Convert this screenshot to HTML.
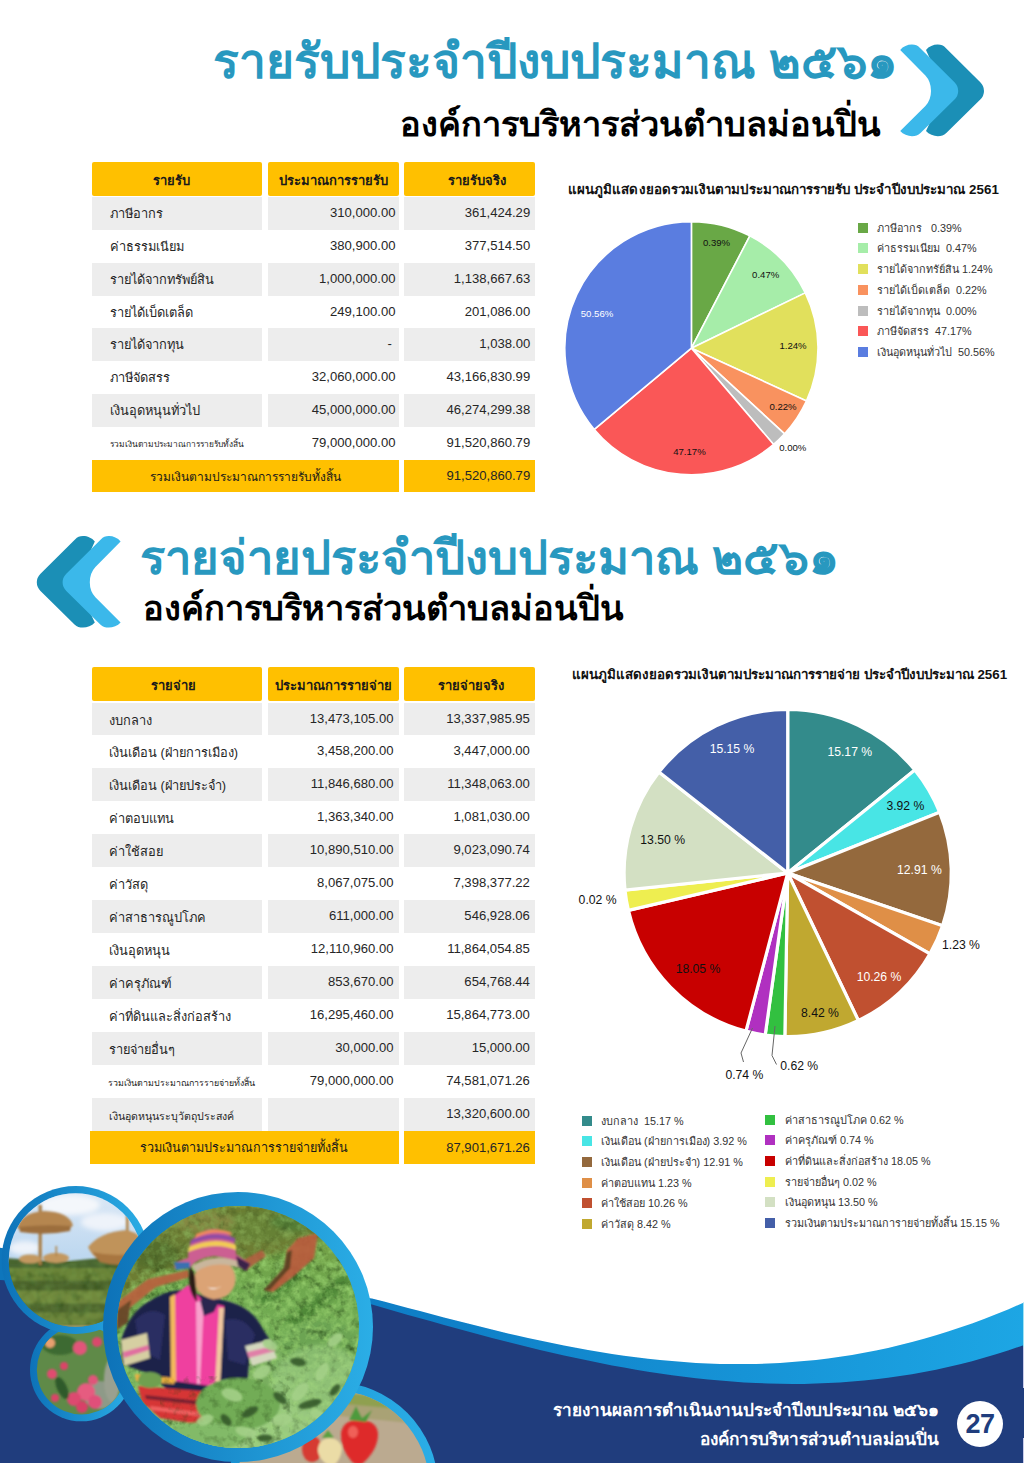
<!DOCTYPE html>
<html lang="th"><head><meta charset="utf-8"><title>รายรับ รายจ่าย ประจำปีงบประมาณ ๒๕๖๑</title>
<style>
*{margin:0;padding:0;box-sizing:border-box}
html,body{width:1024px;height:1463px;background:#fff;overflow:hidden}
body{position:relative;font-family:"Liberation Sans",sans-serif;color:#222}
.abs{position:absolute;white-space:nowrap}
.t1{position:absolute;white-space:nowrap;color:#2898BF;font-weight:bold;font-size:48px;line-height:60px;height:60px;letter-spacing:0px}
.t2{position:absolute;white-space:nowrap;color:#000;font-weight:bold;font-size:34.4px;line-height:44px;height:44px}
.cell{position:absolute;white-space:nowrap;overflow:hidden;font-size:13.1px;color:#262626}
.hd{background:#FFC000;border-radius:2px;text-align:center;font-weight:bold;color:#1a1a1a;font-size:13px}
.g{background:#EDEDED}
.num{text-align:right}
.lbl{padding-left:17.5px;font-size:12.8px}
.sm{font-size:8.4px}
.sm2{font-size:10.6px}
.sm3{font-size:8.9px;padding-left:16.5px}
.ct{position:absolute;white-space:nowrap;font-weight:bold;color:#111;font-size:13px;line-height:20px}
.lg{position:absolute;white-space:nowrap;font-size:10.8px;line-height:14px;color:#333}
.lg i{position:absolute;left:0;top:2px;width:10px;height:10px;display:block}
.lg span{padding-left:19px}
.lgl{max-width:181px;overflow:hidden}
svg text{font-family:"Liberation Sans",sans-serif}
.ft{position:absolute;white-space:nowrap;color:#fff;font-weight:bold;font-size:17.2px;line-height:26px;text-align:right;right:85px}
</style></head><body>
<div class="t1" style="right:127px;top:32px">รายรับประจำปีงบประมาณ ๒๕๖๑</div>
<div class="t2" style="right:143px;top:102px">องค์การบริหารส่วนตำบลม่อนปิ่น</div>
<div class="t1" style="left:139.5px;top:528px;font-size:47.2px">รายจ่ายประจำปีงบประมาณ ๒๕๖๑</div>
<div class="t2" style="left:142.5px;top:586px">องค์การบริหารส่วนตำบลม่อนปิ่น</div>
<svg class="abs" style="left:0;top:0" width="1024" height="700" viewBox="0 0 1024 700">
<path d="M900.2,50 C903,46.5 908,44.5 912,44.6 C915.5,44.7 917.5,45.5 920,48 L954.5,82.3 Q958.2,86 958.2,90.9 Q958.2,95.8 954.5,99.5 L920.5,133 C918,135.3 915.5,136.2 912,136.2 C908,136.2 903,134.5 900.2,131.1 L912,106 L912,76Z" transform="translate(25.8,0)" fill="#1B8FB6"/><path d="M900.2,50 C903,46.5 908,44.5 912,44.6 C915.5,44.7 917.5,45.5 920,48 L954.5,82.3 Q958.2,86 958.2,90.9 Q958.2,95.8 954.5,99.5 L920.5,133 C918,135.3 915.5,136.2 912,136.2 C908,136.2 903,134.5 900.2,131.1 L925.4,105.9 Q931,100 931,90.9 Q931,81.5 925.4,75.5Z" fill="#3BB8EA"/>
<g transform="translate(1020.8,491.4) scale(-1,1)"><path d="M900.2,50 C903,46.5 908,44.5 912,44.6 C915.5,44.7 917.5,45.5 920,48 L954.5,82.3 Q958.2,86 958.2,90.9 Q958.2,95.8 954.5,99.5 L920.5,133 C918,135.3 915.5,136.2 912,136.2 C908,136.2 903,134.5 900.2,131.1 L912,106 L912,76Z" transform="translate(25.8,0)" fill="#1B8FB6"/><path d="M900.2,50 C903,46.5 908,44.5 912,44.6 C915.5,44.7 917.5,45.5 920,48 L954.5,82.3 Q958.2,86 958.2,90.9 Q958.2,95.8 954.5,99.5 L920.5,133 C918,135.3 915.5,136.2 912,136.2 C908,136.2 903,134.5 900.2,131.1 L925.4,105.9 Q931,100 931,90.9 Q931,81.5 925.4,75.5Z" fill="#3BB8EA"/></g>
</svg>
<div class="cell hd" style="left:92px;top:161.5px;width:170px;height:34.5px;line-height:37.5px;padding-right:12px">รายรับ</div>
<div class="cell hd" style="left:268px;top:161.5px;width:131px;height:34.5px;line-height:37.5px;padding-left:0px">ประมาณการรายรับ</div>
<div class="cell hd" style="left:404px;top:161.5px;width:131px;height:34.5px;line-height:37.5px;padding-left:15.0px">รายรับจริง</div>
<div class="cell lbl g" style="left:92px;top:197.00px;width:170px;height:32.85px;line-height:34.85px">ภาษีอากร</div>
<div class="cell num g" style="left:268px;top:197.00px;width:131px;height:32.85px;line-height:32.85px;padding-right:3.5px">310,000.00</div>
<div class="cell num g" style="left:404px;top:197.00px;width:131px;height:32.85px;line-height:32.85px;padding-right:4.8px">361,424.29</div>
<div class="cell lbl" style="left:92px;top:229.85px;width:170px;height:32.85px;line-height:34.85px">ค่าธรรมเนียม</div>
<div class="cell num" style="left:268px;top:229.85px;width:131px;height:32.85px;line-height:32.85px;padding-right:3.5px">380,900.00</div>
<div class="cell num" style="left:404px;top:229.85px;width:131px;height:32.85px;line-height:32.85px;padding-right:4.8px">377,514.50</div>
<div class="cell lbl g" style="left:92px;top:262.70px;width:170px;height:32.85px;line-height:34.85px">รายได้จากทรัพย์สิน</div>
<div class="cell num g" style="left:268px;top:262.70px;width:131px;height:32.85px;line-height:32.85px;padding-right:3.5px">1,000,000.00</div>
<div class="cell num g" style="left:404px;top:262.70px;width:131px;height:32.85px;line-height:32.85px;padding-right:4.8px">1,138,667.63</div>
<div class="cell lbl" style="left:92px;top:295.55px;width:170px;height:32.85px;line-height:34.85px">รายได้เบ็ดเตล็ด</div>
<div class="cell num" style="left:268px;top:295.55px;width:131px;height:32.85px;line-height:32.85px;padding-right:3.5px">249,100.00</div>
<div class="cell num" style="left:404px;top:295.55px;width:131px;height:32.85px;line-height:32.85px;padding-right:4.8px">201,086.00</div>
<div class="cell lbl g" style="left:92px;top:328.40px;width:170px;height:32.85px;line-height:34.85px">รายได้จากทุน</div>
<div class="cell num g" style="left:268px;top:328.40px;width:131px;height:32.85px;line-height:32.85px;padding-right:3.5px">-&nbsp;</div>
<div class="cell num g" style="left:404px;top:328.40px;width:131px;height:32.85px;line-height:32.85px;padding-right:4.8px">1,038.00</div>
<div class="cell lbl" style="left:92px;top:361.25px;width:170px;height:32.85px;line-height:34.85px">ภาษีจัดสรร</div>
<div class="cell num" style="left:268px;top:361.25px;width:131px;height:32.85px;line-height:32.85px;padding-right:3.5px">32,060,000.00</div>
<div class="cell num" style="left:404px;top:361.25px;width:131px;height:32.85px;line-height:32.85px;padding-right:4.8px">43,166,830.99</div>
<div class="cell lbl g" style="left:92px;top:394.10px;width:170px;height:32.85px;line-height:34.85px">เงินอุดหนุนทั่วไป</div>
<div class="cell num g" style="left:268px;top:394.10px;width:131px;height:32.85px;line-height:32.85px;padding-right:3.5px">45,000,000.00</div>
<div class="cell num g" style="left:404px;top:394.10px;width:131px;height:32.85px;line-height:32.85px;padding-right:4.8px">46,274,299.38</div>
<div class="cell lbl sm" style="left:92px;top:426.95px;width:170px;height:32.85px;line-height:34.85px">รวมเงินตามประมาณการรายรับทั้งสิ้น</div>
<div class="cell num" style="left:268px;top:426.95px;width:131px;height:32.85px;line-height:32.85px;padding-right:3.5px">79,000,000.00</div>
<div class="cell num" style="left:404px;top:426.95px;width:131px;height:32.85px;line-height:32.85px;padding-right:4.8px">91,520,860.79</div>
<div class="cell" style="left:92px;top:459.5px;width:307px;height:32.5px;line-height:34.5px;background:#FFC000;text-align:center;font-size:12px;color:#1a1a1a">รวมเงินตามประมาณการรายรับทั้งสิ้น</div>
<div class="cell num" style="left:404px;top:459.5px;width:131px;height:32.5px;line-height:32.5px;background:#FFC000;padding-right:4.8px">91,520,860.79</div>
<div class="cell hd" style="left:91.5px;top:667px;width:170px;height:34px;line-height:37px;padding-right:6px">รายจ่าย</div>
<div class="cell hd" style="left:267.5px;top:667px;width:131px;height:34px;line-height:37px;padding-left:0px">ประมาณการรายจ่าย</div>
<div class="cell hd" style="left:403.5px;top:667px;width:131px;height:34px;line-height:37px;padding-left:4px">รายจ่ายจริง</div>
<div class="cell lbl g" style="left:91.5px;top:702.50px;width:170px;height:32.94px;line-height:36.44px">งบกลาง</div>
<div class="cell num g" style="left:267.5px;top:702.50px;width:131px;height:32.94px;line-height:32.94px;padding-right:5px">13,473,105.00</div>
<div class="cell num g" style="left:403.5px;top:702.50px;width:131px;height:32.94px;line-height:32.94px;padding-right:4.6px">13,337,985.95</div>
<div class="cell lbl" style="left:91.5px;top:735.44px;width:170px;height:32.94px;line-height:36.44px">เงินเดือน (ฝ่ายการเมือง)</div>
<div class="cell num" style="left:267.5px;top:735.44px;width:131px;height:32.94px;line-height:32.94px;padding-right:5px">3,458,200.00</div>
<div class="cell num" style="left:403.5px;top:735.44px;width:131px;height:32.94px;line-height:32.94px;padding-right:4.6px">3,447,000.00</div>
<div class="cell lbl g" style="left:91.5px;top:768.38px;width:170px;height:32.94px;line-height:36.44px">เงินเดือน (ฝ่ายประจำ)</div>
<div class="cell num g" style="left:267.5px;top:768.38px;width:131px;height:32.94px;line-height:32.94px;padding-right:5px">11,846,680.00</div>
<div class="cell num g" style="left:403.5px;top:768.38px;width:131px;height:32.94px;line-height:32.94px;padding-right:4.6px">11,348,063.00</div>
<div class="cell lbl" style="left:91.5px;top:801.32px;width:170px;height:32.94px;line-height:36.44px">ค่าตอบแทน</div>
<div class="cell num" style="left:267.5px;top:801.32px;width:131px;height:32.94px;line-height:32.94px;padding-right:5px">1,363,340.00</div>
<div class="cell num" style="left:403.5px;top:801.32px;width:131px;height:32.94px;line-height:32.94px;padding-right:4.6px">1,081,030.00</div>
<div class="cell lbl g" style="left:91.5px;top:834.26px;width:170px;height:32.94px;line-height:36.44px">ค่าใช้สอย</div>
<div class="cell num g" style="left:267.5px;top:834.26px;width:131px;height:32.94px;line-height:32.94px;padding-right:5px">10,890,510.00</div>
<div class="cell num g" style="left:403.5px;top:834.26px;width:131px;height:32.94px;line-height:32.94px;padding-right:4.6px">9,023,090.74</div>
<div class="cell lbl" style="left:91.5px;top:867.20px;width:170px;height:32.94px;line-height:36.44px">ค่าวัสดุ</div>
<div class="cell num" style="left:267.5px;top:867.20px;width:131px;height:32.94px;line-height:32.94px;padding-right:5px">8,067,075.00</div>
<div class="cell num" style="left:403.5px;top:867.20px;width:131px;height:32.94px;line-height:32.94px;padding-right:4.6px">7,398,377.22</div>
<div class="cell lbl g" style="left:91.5px;top:900.14px;width:170px;height:32.94px;line-height:36.44px">ค่าสาธารณูปโภค</div>
<div class="cell num g" style="left:267.5px;top:900.14px;width:131px;height:32.94px;line-height:32.94px;padding-right:5px">611,000.00</div>
<div class="cell num g" style="left:403.5px;top:900.14px;width:131px;height:32.94px;line-height:32.94px;padding-right:4.6px">546,928.06</div>
<div class="cell lbl" style="left:91.5px;top:933.08px;width:170px;height:32.94px;line-height:36.44px">เงินอุดหนุน</div>
<div class="cell num" style="left:267.5px;top:933.08px;width:131px;height:32.94px;line-height:32.94px;padding-right:5px">12,110,960.00</div>
<div class="cell num" style="left:403.5px;top:933.08px;width:131px;height:32.94px;line-height:32.94px;padding-right:4.6px">11,864,054.85</div>
<div class="cell lbl g" style="left:91.5px;top:966.02px;width:170px;height:32.94px;line-height:36.44px">ค่าครุภัณฑ์</div>
<div class="cell num g" style="left:267.5px;top:966.02px;width:131px;height:32.94px;line-height:32.94px;padding-right:5px">853,670.00</div>
<div class="cell num g" style="left:403.5px;top:966.02px;width:131px;height:32.94px;line-height:32.94px;padding-right:4.6px">654,768.44</div>
<div class="cell lbl" style="left:91.5px;top:998.96px;width:170px;height:32.94px;line-height:36.44px">ค่าที่ดินและสิ่งก่อสร้าง</div>
<div class="cell num" style="left:267.5px;top:998.96px;width:131px;height:32.94px;line-height:32.94px;padding-right:5px">16,295,460.00</div>
<div class="cell num" style="left:403.5px;top:998.96px;width:131px;height:32.94px;line-height:32.94px;padding-right:4.6px">15,864,773.00</div>
<div class="cell lbl g" style="left:91.5px;top:1031.90px;width:170px;height:32.94px;line-height:36.44px">รายจ่ายอื่นๆ</div>
<div class="cell num g" style="left:267.5px;top:1031.90px;width:131px;height:32.94px;line-height:32.94px;padding-right:5px">30,000.00</div>
<div class="cell num g" style="left:403.5px;top:1031.90px;width:131px;height:32.94px;line-height:32.94px;padding-right:4.6px">15,000.00</div>
<div class="cell lbl sm3" style="left:91.5px;top:1064.84px;width:170px;height:32.94px;line-height:36.44px">รวมเงินตามประมาณการรายจ่ายทั้งสิ้น</div>
<div class="cell num" style="left:267.5px;top:1064.84px;width:131px;height:32.94px;line-height:32.94px;padding-right:5px">79,000,000.00</div>
<div class="cell num" style="left:403.5px;top:1064.84px;width:131px;height:32.94px;line-height:32.94px;padding-right:4.6px">74,581,071.26</div>
<div class="cell lbl g sm2" style="left:91.5px;top:1097.78px;width:170px;height:32.94px;line-height:36.44px">เงินอุดหนุนระบุวัตถุประสงค์</div>
<div class="cell num g" style="left:267.5px;top:1097.78px;width:131px;height:32.94px;line-height:32.94px;padding-right:5px"></div>
<div class="cell num g" style="left:403.5px;top:1097.78px;width:131px;height:32.94px;line-height:32.94px;padding-right:4.6px">13,320,600.00</div>
<div class="cell" style="left:90.0px;top:1131px;width:308.5px;height:33px;line-height:35px;background:#FFC000;text-align:center;font-size:12.6px;color:#1a1a1a">รวมเงินตามประมาณการรายจ่ายทั้งสิ้น</div>
<div class="cell num" style="left:403.5px;top:1131px;width:131px;height:33px;line-height:33px;background:#FFC000;padding-right:4.6px">87,901,671.26</div>
<div class="ct" style="left:568px;top:179.5px;font-size:13.35px;letter-spacing:0.07px">แผนภูมิแสดงยอดรวมเงินตามประมาณการรายรับ ประจำปีงบประมาณ 2561</div>
<svg class="abs" style="left:0;top:0" width="1024" height="1463" viewBox="0 0 1024 1463">
<path d="M691.40,348.20L691.40,221.60A126.6,126.6 0 0 1 749.86,235.90Z" fill="#69A846" stroke="#fff" stroke-width="1.6" stroke-linejoin="round"/>
<path d="M691.40,348.20L749.86,235.90A126.6,126.6 0 0 1 805.28,292.90Z" fill="#A6EDA9" stroke="#fff" stroke-width="1.6" stroke-linejoin="round"/>
<path d="M691.40,348.20L805.28,292.90A126.6,126.6 0 0 1 806.51,400.90Z" fill="#E1E05C" stroke="#fff" stroke-width="1.6" stroke-linejoin="round"/>
<path d="M691.40,348.20L806.51,400.90A126.6,126.6 0 0 1 784.59,433.89Z" fill="#F9925F" stroke="#fff" stroke-width="1.6" stroke-linejoin="round"/>
<path d="M691.40,348.20L784.59,433.89A126.6,126.6 0 0 1 773.62,444.47Z" fill="#BDBDBD" stroke="#fff" stroke-width="1.6" stroke-linejoin="round"/>
<path d="M691.40,348.20L773.62,444.47A126.6,126.6 0 0 1 594.28,429.41Z" fill="#FA5757" stroke="#fff" stroke-width="1.6" stroke-linejoin="round"/>
<path d="M691.40,348.20L594.28,429.41A126.6,126.6 0 0 1 691.40,221.60Z" fill="#5A7DE0" stroke="#fff" stroke-width="1.6" stroke-linejoin="round"/>
<text x="716.5" y="245.70000000000002" font-size="9.6" fill="#111" text-anchor="middle">0.39%</text>
<text x="765.7" y="278.2" font-size="9.6" fill="#111" text-anchor="middle">0.47%</text>
<text x="793" y="349.29999999999995" font-size="9.6" fill="#111" text-anchor="middle">1.24%</text>
<text x="783" y="410.29999999999995" font-size="9.6" fill="#111" text-anchor="middle">0.22%</text>
<text x="792.8" y="450.79999999999995" font-size="9.6" fill="#111" text-anchor="middle">0.00%</text>
<text x="689.4" y="454.9" font-size="9.6" fill="#111" text-anchor="middle">47.17%</text>
<text x="597" y="316.79999999999995" font-size="9.6" fill="#fff" text-anchor="middle">50.56%</text>
<path d="M787.70,873.00L787.70,709.40A163.6,163.6 0 0 1 914.84,770.04Z" fill="#338B8B" stroke="#fff" stroke-width="3.2" stroke-linejoin="miter"/>
<path d="M787.70,873.00L914.84,770.04A163.6,163.6 0 0 1 939.60,812.24Z" fill="#48E5E5" stroke="#fff" stroke-width="3.2" stroke-linejoin="miter"/>
<path d="M787.70,873.00L939.60,812.24A163.6,163.6 0 0 1 942.57,925.72Z" fill="#94693D" stroke="#fff" stroke-width="3.2" stroke-linejoin="miter"/>
<path d="M787.70,873.00L942.57,925.72A163.6,163.6 0 0 1 929.95,953.81Z" fill="#DF8F47" stroke="#fff" stroke-width="3.2" stroke-linejoin="miter"/>
<path d="M787.70,873.00L929.95,953.81A163.6,163.6 0 0 1 858.39,1020.54Z" fill="#C05030" stroke="#fff" stroke-width="3.2" stroke-linejoin="miter"/>
<path d="M787.70,873.00L858.39,1020.54A163.6,163.6 0 0 1 784.84,1036.58Z" fill="#C0A830" stroke="#fff" stroke-width="3.2" stroke-linejoin="miter"/>
<path d="M787.70,873.00L784.84,1036.58A163.6,163.6 0 0 1 765.21,1035.05Z" fill="#32C040" stroke="#fff" stroke-width="3.2" stroke-linejoin="miter"/>
<path d="M787.70,873.00L765.21,1035.05A163.6,163.6 0 0 1 745.91,1031.17Z" fill="#B030C0" stroke="#fff" stroke-width="3.2" stroke-linejoin="miter"/>
<path d="M787.70,873.00L745.91,1031.17A163.6,163.6 0 0 1 628.42,910.36Z" fill="#C80000" stroke="#fff" stroke-width="3.2" stroke-linejoin="miter"/>
<path d="M787.70,873.00L628.42,910.36A163.6,163.6 0 0 1 625.00,890.10Z" fill="#EEEE50" stroke="#fff" stroke-width="3.2" stroke-linejoin="miter"/>
<path d="M787.70,873.00L625.00,890.10A163.6,163.6 0 0 1 658.96,772.05Z" fill="#D3E0C3" stroke="#fff" stroke-width="3.2" stroke-linejoin="miter"/>
<path d="M787.70,873.00L658.96,772.05A163.6,163.6 0 0 1 787.70,709.40Z" fill="#445FA8" stroke="#fff" stroke-width="3.2" stroke-linejoin="miter"/>
<circle cx="787.7" cy="873" r="165.2" fill="none" stroke="#fff" stroke-width="3.4"/>
<text x="732" y="753.2" font-size="12.2" fill="#fff" text-anchor="middle">15.15 %</text>
<text x="849.8" y="756" font-size="12.2" fill="#fff" text-anchor="middle">15.17 %</text>
<text x="905.4" y="810.2" font-size="12.2" fill="#111" text-anchor="middle">3.92 %</text>
<text x="919.4" y="873.8" font-size="12.2" fill="#fff" text-anchor="middle">12.91 %</text>
<text x="961" y="949" font-size="12.2" fill="#111" text-anchor="middle">1.23 %</text>
<text x="879" y="981" font-size="12.2" fill="#fff" text-anchor="middle">10.26 %</text>
<text x="820" y="1017" font-size="12.2" fill="#111" text-anchor="middle">8.42 %</text>
<text x="698" y="972.6" font-size="12.2" fill="#111" text-anchor="middle">18.05 %</text>
<text x="662.7" y="844" font-size="12.2" fill="#111" text-anchor="middle">13.50 %</text>
<text x="597.6" y="904.2" font-size="12.2" fill="#111" text-anchor="middle">0.02 %</text>
<text x="744.4" y="1078.6" font-size="12.2" fill="#111" text-anchor="middle">0.74 %</text>
<text x="799.2" y="1069.5" font-size="12.2" fill="#111" text-anchor="middle">0.62 %</text>
<polyline points="752.5,1028 741,1053 743.5,1062" fill="none" stroke="#666" stroke-width="1"/>
<polyline points="775,1026 772,1055.5 776.5,1064.5" fill="none" stroke="#666" stroke-width="1"/>
</svg>
<div class="lg" style="left:858px;top:220.7px"><i style="background:#69A846"></i><span>ภาษีอากร&nbsp;&nbsp; 0.39%</span></div>
<div class="lg" style="left:858px;top:241.4px"><i style="background:#A6EDA9"></i><span>ค่าธรรมเนียม&nbsp; 0.47%</span></div>
<div class="lg" style="left:858px;top:262.2px"><i style="background:#E1E05C"></i><span>รายได้จากทรัย์สิน 1.24%</span></div>
<div class="lg" style="left:858px;top:282.9px"><i style="background:#F9925F"></i><span>รายได้เบ็ดเตล็ด&nbsp; 0.22%</span></div>
<div class="lg" style="left:858px;top:303.7px"><i style="background:#BDBDBD"></i><span>รายได้จากทุน&nbsp; 0.00%</span></div>
<div class="lg" style="left:858px;top:324.4px"><i style="background:#FA5757"></i><span>ภาษีจัดสรร&nbsp; 47.17%</span></div>
<div class="lg" style="left:858px;top:345.2px"><i style="background:#5A7DE0"></i><span>เงินอุดหนุนทั่วไป&nbsp; 50.56%</span></div>
<div class="lg lgl" style="left:582px;top:1113.5px"><i style="background:#338B8B"></i><span>งบกลาง&nbsp; 15.17 %</span></div>
<div class="lg lgl" style="left:582px;top:1134.2px"><i style="background:#48E5E5"></i><span>เงินเดือน (ฝ่ายการเมือง) 3.92 %</span></div>
<div class="lg lgl" style="left:582px;top:1154.9px"><i style="background:#94693D"></i><span>เงินเดือน (ฝ่ายประจำ) 12.91 %</span></div>
<div class="lg lgl" style="left:582px;top:1175.5px"><i style="background:#DF8F47"></i><span>ค่าตอบแทน 1.23 %</span></div>
<div class="lg lgl" style="left:582px;top:1196.2px"><i style="background:#C05030"></i><span>ค่าใช้สอย 10.26 %</span></div>
<div class="lg lgl" style="left:582px;top:1216.9px"><i style="background:#C0A830"></i><span>ค่าวัสดุ 8.42 %</span></div>
<div class="lg" style="left:765px;top:1112.6px"><i style="background:#32C040"></i><span style="padding-left:20px">ค่าสาธารณูปโภค 0.62 %</span></div>
<div class="lg" style="left:765px;top:1133.3px"><i style="background:#B030C0"></i><span style="padding-left:20px">ค่าครุภัณฑ์ 0.74 %</span></div>
<div class="lg" style="left:765px;top:1154.0px"><i style="background:#C80000"></i><span style="padding-left:20px">ค่าที่ดินและสิ่งก่อสร้าง 18.05 %</span></div>
<div class="lg" style="left:765px;top:1174.6px"><i style="background:#EEEE50"></i><span style="padding-left:20px">รายจ่ายอื่นๆ 0.02 %</span></div>
<div class="lg" style="left:765px;top:1195.3px"><i style="background:#D3E0C3"></i><span style="padding-left:20px">เงินอุดหนุน 13.50 %</span></div>
<div class="lg" style="left:765px;top:1216.0px"><i style="background:#445FA8"></i><span style="padding-left:20px">รวมเงินตามประมาณการายจ่ายทั้งสิ้น 15.15 %</span></div>
<div class="ct" style="left:572px;top:664.5px;font-size:13.35px">แผนภูมิแสดงยอดรวมเงินตามประมาณการรายจ่าย ประจำปีงบประมาณ 2561</div>
<svg class="abs" style="left:0;top:1170px" width="1024" height="293" viewBox="0 1170 1024 293">
<defs>
<linearGradient id="band" x1="0" x2="1" y1="0" y2="0"><stop offset="0" stop-color="#0E76BC"/><stop offset="0.45" stop-color="#0F80C8"/><stop offset="1" stop-color="#1DA6E4"/></linearGradient>
<linearGradient id="ring" x1="0" x2="1" y1="0" y2="0"><stop offset="0" stop-color="#0D72B8"/><stop offset="1" stop-color="#2BAEE6"/></linearGradient>
<linearGradient id="ring2" x1="0" x2="1" y1="0" y2="0"><stop offset="0" stop-color="#1792D4"/><stop offset="1" stop-color="#2BAEE6"/></linearGradient>
<linearGradient id="sky" x1="0" x2="0" y1="0" y2="1"><stop offset="0" stop-color="#DDE9F6"/><stop offset="1" stop-color="#B9D5EF"/></linearGradient>
<linearGradient id="field" x1="0" x2="0" y1="0" y2="1"><stop offset="0" stop-color="#76983F"/><stop offset="0.35" stop-color="#6FA84E"/><stop offset="0.7" stop-color="#78B25C"/><stop offset="1" stop-color="#94C878"/></linearGradient>
<clipPath id="cA"><circle cx="75.6" cy="1260" r="66.8"/></clipPath>
<clipPath id="cB"><circle cx="81.3" cy="1370" r="44.5"/></clipPath>
<clipPath id="cC"><circle cx="333" cy="1487" r="96.5"/></clipPath>
<clipPath id="cD"><circle cx="238" cy="1327" r="121"/></clipPath>
<filter id="b1" x="-20%" y="-20%" width="140%" height="140%"><feGaussianBlur stdDeviation="1.2"/></filter>
<filter id="b2" x="-20%" y="-20%" width="140%" height="140%"><feGaussianBlur stdDeviation="2.5"/></filter>
<filter id="nzd" color-interpolation-filters="sRGB" x="0" y="0" width="100%" height="100%"><feTurbulence type="fractalNoise" baseFrequency="0.11" numOctaves="3" seed="7"/><feColorMatrix type="matrix" values="0 0 0 0 0.14  0 0 0 0 0.26  0 0 0 0 0.08  1.6 0 0 0 -0.78"/></filter>
<filter id="nzl" color-interpolation-filters="sRGB" x="0" y="0" width="100%" height="100%"><feTurbulence type="fractalNoise" baseFrequency="0.13" numOctaves="3" seed="21"/><feColorMatrix type="matrix" values="0 0 0 0 0.58  0 0 0 0 0.80  0 0 0 0 0.42  0 2.1 0 0 -0.82"/></filter>
</defs>
<!-- wave -->
<path d="M0,1247.7L372,1298.4L384,1301.6L396,1304.8L408,1308.0L420,1311.1L432,1314.3L444,1317.5L456,1320.6L468,1323.6L480,1326.6L492,1329.6L504,1332.5L516,1335.3L528,1338.0L540,1340.6L552,1343.1L564,1345.5L576,1347.8L588,1350.0L600,1352.0L612,1353.9L624,1355.7L636,1357.3L648,1358.7L660,1360.0L672,1361.1L684,1362.1L696,1362.9L708,1363.4L720,1363.9L732,1364.1L744,1364.1L756,1363.9L768,1363.5L780,1362.9L792,1362.1L804,1361.1L816,1359.9L828,1358.4L840,1356.8L852,1354.9L864,1352.8L876,1350.4L888,1347.9L900,1345.1L912,1342.0L924,1338.8L936,1335.3L948,1331.5L960,1327.6L972,1323.4L984,1318.9L996,1314.3L1008,1309.4L1020,1304.2L1024,1302.5L1024,1463L0,1463Z" fill="url(#band)"/>
<path d="M0,1280.0L372,1304.6L384,1308.1L396,1311.5L408,1314.9L420,1318.3L432,1321.6L444,1325.0L456,1328.3L468,1331.5L480,1334.7L492,1337.9L504,1341.0L516,1344.0L528,1347.0L540,1349.9L552,1352.7L564,1355.5L576,1358.1L588,1360.6L600,1363.1L612,1365.4L624,1367.6L636,1369.7L648,1371.7L660,1373.5L672,1375.2L684,1376.8L696,1378.2L708,1379.5L720,1380.6L732,1381.6L744,1382.4L756,1383.1L768,1383.5L780,1383.8L792,1383.9L804,1383.9L816,1383.6L828,1383.1L840,1382.5L852,1381.6L864,1380.6L876,1379.3L888,1377.8L900,1376.1L912,1374.2L924,1372.1L936,1369.7L948,1367.1L960,1364.2L972,1361.2L984,1357.8L996,1354.3L1008,1350.4L1020,1346.4L1024,1345.0L1024,1463L0,1463Z" fill="#203D7D"/>

<!-- lychee circle -->
<circle cx="81.3" cy="1370" r="51.3" fill="url(#ring)"/>
<g clip-path="url(#cB)">
<rect x="30" y="1318" width="110" height="110" fill="#5F8A48"/>
<g filter="url(#b1)">
<ellipse cx="60" cy="1345" rx="18" ry="10" fill="#3E6A30"/>
<ellipse cx="100" cy="1395" rx="16" ry="14" fill="#8E9A88"/>
<ellipse cx="112" cy="1380" rx="8" ry="22" fill="#9AA090"/>
<circle cx="50" cy="1343" r="5" fill="#E8A070"/>
<circle cx="80" cy="1348" r="7" fill="#E2557A"/>
<circle cx="97" cy="1342" r="5" fill="#D9486C"/>
<circle cx="52" cy="1374" r="5" fill="#E04C70"/>
<circle cx="64" cy="1366" r="4" fill="#D94468"/>
<circle cx="86" cy="1392" r="9" fill="#E65C80"/>
<circle cx="74" cy="1399" r="7" fill="#DC4A70"/>
<circle cx="95" cy="1402" r="7" fill="#E0507A"/>
<circle cx="82" cy="1407" r="6" fill="#D84068"/>
<circle cx="93" cy="1380" r="5" fill="#E0557A"/>
<circle cx="55" cy="1398" r="4" fill="#D94468"/>
<ellipse cx="62" cy="1388" rx="5" ry="12" fill="#2F5A2A" transform="rotate(-25 62 1388)"/>
</g>
</g>

<!-- top-left circle -->
<circle cx="75.6" cy="1260" r="74" fill="url(#ring)"/>
<g clip-path="url(#cA)">
<rect x="0" y="1190" width="150" height="75" fill="url(#sky)"/>
<g filter="url(#b2)">
<ellipse cx="70" cy="1205" rx="30" ry="10" fill="#F4F7FB"/>
<ellipse cx="105" cy="1222" rx="24" ry="9" fill="#EEF3FA"/>
<ellipse cx="25" cy="1248" rx="16" ry="7" fill="#EEF3FA"/>
</g>
<rect x="0" y="1262" width="150" height="70" fill="#5C7634"/>
<g filter="url(#b1)">
<path d="M5,1258 L60,1262 L100,1258 L150,1262 L150,1272 L5,1272Z" fill="#4A6630"/>
<rect x="0" y="1268" width="150" height="12" fill="#6A8438"/>
<rect x="0" y="1281" width="150" height="9" fill="#4C642C"/>
<rect x="0" y="1291" width="150" height="12" fill="#70883C"/>
<rect x="0" y="1304" width="150" height="8" fill="#50682E"/>
<rect x="0" y="1313" width="150" height="12" fill="#6C843A"/>
<path d="M40,1326 L150,1326 L150,1336 L40,1336Z" fill="#C9AB80"/>
<rect x="0" y="1262" width="150" height="64" filter="url(#nzd)" opacity="0.9"/>
<rect x="0" y="1262" width="150" height="64" filter="url(#nzl)" opacity="0.22"/>
<!-- umbrellas -->
<rect x="38.6" y="1205" width="3.2" height="60" fill="#A77C45"/>
<path d="M17,1228 Q20,1213 44,1211 Q70,1212 73,1226 Q60,1232 45,1230 Q28,1233 17,1228Z" fill="#B58650"/>
<path d="M19,1227 Q45,1224 71,1226 L70,1231 Q45,1236 20,1232Z" fill="#9C6E3E"/>
<rect x="126" y="1215" width="2.6" height="18" fill="#B08448"/>
<path d="M88,1247 Q100,1232 127,1230 Q142,1234 146,1246 L142,1262 Q120,1266 100,1260 Q92,1256 88,1247Z" fill="#C0935A"/>
<path d="M92,1252 Q118,1258 144,1252 L142,1263 Q120,1268 100,1262Z" fill="#A8763F"/>
<ellipse cx="30" cy="1259" rx="11" ry="4.5" fill="#C39860"/>
<ellipse cx="56" cy="1258" rx="13" ry="5" fill="#C39860"/>
<rect x="55.5" y="1246" width="1.6" height="10" fill="#B08448"/>
</g>
</g>

<!-- strawberry circle -->
<circle cx="333" cy="1487" r="105" fill="url(#ring2)"/>
<g clip-path="url(#cC)">
<rect x="230" y="1380" width="210" height="90" fill="#BBAA90"/>
<g filter="url(#b1)">
<path d="M330,1392 L420,1400 L430,1425 L330,1415Z" fill="#A9A274"/>
<path d="M345,1393 L400,1398 L410,1410 L345,1404Z" fill="#8FA050"/>
<ellipse cx="312" cy="1449" rx="10" ry="13" fill="#D63A32"/>
<path d="M341,1433 Q343,1420 359,1420 Q377,1420 378,1434 Q378,1450 362,1464 Q357,1466 352,1462 Q340,1448 341,1433Z" fill="#DE2A2C"/>
<ellipse cx="353" cy="1432" rx="5" ry="6" fill="#F06058"/>
<path d="M318,1448 Q320,1438 330,1438 Q341,1439 342,1449 Q341,1460 333,1466 Q327,1466 322,1460 Q317,1454 318,1448Z" fill="#EBDCA6"/>
<path d="M349,1420 L356,1406 L362,1418 L372,1410 L366,1422Z" fill="#4E9A3C"/>
<path d="M322,1438 L328,1430 L334,1438Z" fill="#5AA040"/>
</g>
</g>

<!-- big circle -->
<circle cx="238" cy="1327" r="135" fill="url(#ring)"/>
<g clip-path="url(#cD)">
<rect x="115" y="1204" width="246" height="246" fill="url(#field)"/>
<g filter="url(#b2)">
<!-- hill top vegetation -->
<path d="M140,1206 L340,1206 L340,1240 L300,1236 L285,1250 L262,1258 L240,1262 L180,1268 L150,1276 L118,1300 L118,1240Z" fill="#6C8236"/>
<ellipse cx="262" cy="1226" rx="42" ry="16" fill="#5E8A38"/>
<ellipse cx="205" cy="1222" rx="30" ry="10" fill="#9A9A52"/>
<ellipse cx="160" cy="1252" rx="30" ry="16" fill="#5F7A32"/>
<!-- rows of bushes (darker stripes) -->
<path d="M255,1300 L300,1262 L312,1266 L270,1306Z" fill="#4C8436"/>
<path d="M285,1320 L345,1272 L352,1282 L296,1330Z" fill="#4F8838"/>
<path d="M150,1300 L190,1284 L196,1292 L156,1310Z" fill="#4F8838"/>
<!-- bright foreground leaves -->
<ellipse cx="300" cy="1385" rx="75" ry="48" fill="#79AE5E"/>
<ellipse cx="320" cy="1345" rx="40" ry="25" fill="#6CA452"/>
<ellipse cx="255" cy="1430" rx="75" ry="26" fill="#8CBC72"/>
</g>
<rect x="115" y="1204" width="246" height="246" filter="url(#nzd)"/>
<rect x="115" y="1204" width="246" height="246" filter="url(#nzl)"/>
<g filter="url(#b2)" opacity="0.5"><path d="M118,1206 L345,1206 L345,1236 L300,1234 L285,1250 L262,1256 L240,1260 L180,1266 L150,1274 L116,1298Z" fill="#6E7830"/><ellipse cx="150" cy="1255" rx="28" ry="16" fill="#4E6428"/><ellipse cx="300" cy="1222" rx="30" ry="10" fill="#4E7030"/></g>
<g filter="url(#b2)" opacity="0.45"><ellipse cx="320" cy="1390" rx="50" ry="45" fill="#A8D890"/><ellipse cx="270" cy="1435" rx="70" ry="20" fill="#A8D890"/></g>
<g filter="url(#b1)" opacity="0.92"><!-- soil paths -->
<path d="M298,1238 L318,1233 L314,1258 L294,1276 L273,1292 L264,1290 L284,1268 L287,1250Z" fill="#BA5C3C"/>
<path d="M284,1268 L287,1252 L292,1250 L290,1268 L270,1290 L264,1290Z" fill="#5E3A22"/>
<path d="M117,1302 L148,1279 L188,1270 L190,1277 L156,1287 L131,1307 L121,1324 L115,1324Z" fill="#B8603E"/>
<path d="M117,1310 L131,1300 L128,1322 L117,1330Z" fill="#6A4228"/>
<path d="M240,1262 L262,1250 L266,1256 L246,1270Z" fill="#B06040"/>
</g>
<g filter="url(#b1)">
<!-- body -->
<path d="M148,1302 Q165,1291 180,1290 L222,1300 Q252,1306 262,1328 L274,1346 L270,1362 L250,1352 L246,1394 L215,1400 L170,1392 L150,1374 L122,1364 L121,1340 Q130,1312 148,1302Z" fill="#1E2249"/>
<path d="M135,1320 Q150,1305 165,1315 L160,1360 L140,1350Z" fill="#2A2F62"/>
<path d="M225,1320 Q245,1315 255,1335 L245,1365 L228,1360Z" fill="#2A2F62"/>
<!-- cuffs -->
<path d="M121,1340 L147,1333 L150,1358 L124,1366Z" fill="#D6CFA2"/>
<path d="M245,1346 L270,1340 L277,1358 L252,1366Z" fill="#D4D8BE"/>
<path d="M123,1352 L148,1345 L149,1350 L124,1358Z" fill="#E070A0"/>
<path d="M247,1352 L273,1346 L275,1351 L249,1358Z" fill="#E080A8"/>
<!-- pink vest -->
<path d="M174,1296 L188,1285 L204,1302 L224,1306 L222,1330 L218,1387 L175,1381 L171,1330Z" fill="#EF409F"/>
<path d="M170,1297 L175,1294 L176,1382 L171,1381Z" fill="#F3B95C"/>
<path d="M219,1308 L224,1308 L220,1388 L215,1387Z" fill="#F0C8A0"/>
<path d="M196,1302 L204,1300 L200,1384 L197,1384Z" fill="#F8A0CC"/>
<path d="M200,1300 L222,1296 L214,1312 L204,1316Z" fill="#2A2850"/>
<!-- belt -->
<path d="M135,1374 L174,1378 L174,1384 L136,1381Z" fill="#F0B040"/>
<!-- skirt -->
<path d="M138,1386 L214,1392 L222,1410 L196,1424 L160,1418 L142,1402Z" fill="#D63636"/>
<path d="M145,1395 L210,1402 L209,1406 L146,1399Z" fill="#7A2030"/>
<path d="M150,1406 L205,1413 L204,1417 L151,1410Z" fill="#F06060"/>
<!-- neck/face -->
<path d="M196,1290 L214,1300 L222,1292 L220,1280Z" fill="#C88C60"/>
<ellipse cx="215" cy="1279" rx="20.5" ry="20" fill="#DBA374"/>
<path d="M190,1266 Q186,1290 197,1302 L195,1276Z" fill="#2A1C18"/>
<path d="M207,1287 Q214,1292 222,1286 Q215,1290 207,1287Z" fill="#fff"/>
<!-- hat -->
<path d="M188,1258 Q188,1232 213,1229 Q236,1230 236,1254 L250,1264 L246,1270 Q236,1258 214,1256 Q196,1258 190,1268 L174,1268 L176,1262Z" fill="#CC5E92"/>
<path d="M189,1247 Q214,1236 236,1245 L236,1250 Q214,1241 188,1252Z" fill="#F2CC54"/>
<path d="M191,1240 Q214,1230 235,1238 L235,1242 Q214,1234 190,1244Z" fill="#8C4CA4"/>
<path d="M196,1234 Q214,1226 231,1232 L232,1235 Q214,1229 195,1238Z" fill="#F08A5A"/>
<path d="M192,1266 Q214,1252 240,1262 L246,1270 Q214,1258 196,1272Z" fill="#C9B69C"/>
<path d="M236,1256 L250,1264 L246,1271 L238,1266Z" fill="#3A2048"/>
<path d="M174,1262 L190,1262 L190,1268 L176,1270Z" fill="#3A70B0"/>
<!-- foreground leaves over body -->
<ellipse cx="238" cy="1404" rx="42" ry="26" fill="#72AC56"/>
<ellipse cx="205" cy="1436" rx="42" ry="14" fill="#82BA68"/>
<ellipse cx="150" cy="1380" rx="12" ry="8" fill="#6FA050"/>
</g>
<rect x="160" y="1376" width="130" height="75" filter="url(#nzd)" opacity="0.55"/>
<!-- leaf texture -->
<g filter="url(#b1)" opacity="0.9">
<g fill="#A4D088">
<ellipse cx="262" cy="1372" rx="10" ry="6" transform="rotate(-30 262 1372)"/>
<ellipse cx="300" cy="1392" rx="11" ry="6" transform="rotate(-50 300 1392)"/>
<ellipse cx="232" cy="1395" rx="11" ry="6" transform="rotate(20 232 1395)"/>
<ellipse cx="282" cy="1420" rx="10" ry="6" transform="rotate(-10 282 1420)"/>
<ellipse cx="322" cy="1372" rx="10" ry="5" transform="rotate(-60 322 1372)"/>
<ellipse cx="246" cy="1432" rx="11" ry="5" transform="rotate(15 246 1432)"/>
<ellipse cx="205" cy="1420" rx="9" ry="5" transform="rotate(-20 205 1420)"/>
<ellipse cx="335" cy="1340" rx="9" ry="5" transform="rotate(-40 335 1340)"/>
<ellipse cx="270" cy="1345" rx="8" ry="5" transform="rotate(30 270 1345)"/>
<ellipse cx="318" cy="1415" rx="9" ry="5" transform="rotate(25 318 1415)"/>
</g>
<g fill="#35582A">
<ellipse cx="280" cy="1398" rx="8" ry="4" transform="rotate(40 280 1398)"/>
<ellipse cx="250" cy="1412" rx="9" ry="4" transform="rotate(-30 250 1412)"/>
<ellipse cx="310" cy="1404" rx="12" ry="4" transform="rotate(-15 310 1404)"/>
<ellipse cx="298" cy="1362" rx="8" ry="4" transform="rotate(10 298 1362)"/>
<ellipse cx="226" cy="1420" rx="7" ry="4" transform="rotate(50 226 1420)"/>
<ellipse cx="335" cy="1390" rx="7" ry="3.5" transform="rotate(-50 335 1390)"/>
<ellipse cx="265" cy="1438" rx="8" ry="3.5" transform="rotate(0 265 1438)"/>
</g>
</g>
</g>
</svg>

<div class="ft" style="top:1397px">รายงานผลการดำเนินงานประจำปีงบประมาณ ๒๕๖๑</div>
<div class="ft" style="top:1426px">องค์การบริหารส่วนตำบลม่อนปิ่น</div>
<div class="abs" style="left:957px;top:1401px;width:46px;height:46px;border-radius:50%;background:#fff;color:#203D7D;font-weight:bold;font-size:27px;line-height:46px;text-align:center;letter-spacing:-0.5px">27</div>
<div class="abs" style="left:1023px;top:1303px;width:1px;height:44px;background:#9FE3F5"></div>
<div class="abs" style="left:1023px;top:1347px;width:1px;height:41px;background:#C8CBEA"></div>
<div class="abs" style="left:1023px;top:1438px;width:1px;height:25px;background:#C8CBEA"></div>
</body></html>
